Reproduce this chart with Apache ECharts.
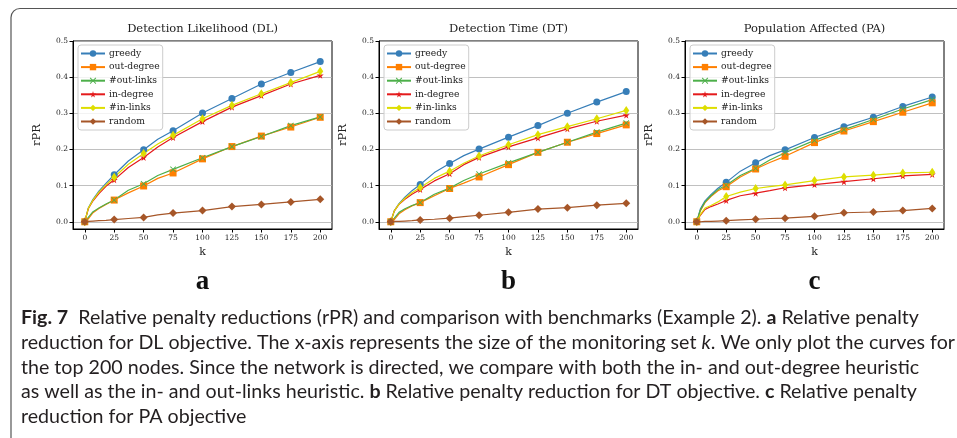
<!DOCTYPE html>
<html>
<head>
<meta charset="utf-8">
<script src="https://cdn.jsdelivr.net/npm/echarts@6/dist/echarts.min.js"></script>
<style>
  html, body { margin: 0; padding: 0; background: #fff; }
  #chart { width: 957px; height: 438px; }
</style>
</head>
<body>
<div id="chart"></div>
<script>
// k values the curves were read at (markers only every 25)
const kSteps = [0, 3, 7, 12, 18, 25, 37, 50, 62, 75, 100, 125, 150, 175, 200];
const xTicks = [0, 25, 50, 75, 100, 125, 150, 175, 200];
const yTicks = [0, 0.1, 0.2, 0.3, 0.4, 0.5];
const seriesNames = ['greedy', 'out-degree', '#out-links', 'in-degree', '#in-links', 'random'];
const panelTitles = ['Detection Likelihood (DL)', 'Detection Time (DT)', 'Population Affected (PA)'];
const panelLetters = ['a', 'b', 'c'];

// (a) DL
const dlGreedy   = [0, .038, .062, .085, .106, .130, .168, .199, .228, .252, .301, .341, .381, .413, .443];
const dlOutDeg   = [0, .008, .025, .037, .048, .060, .080, .099, .120, .135, .174, .208, .237, .262, .289];
const dlOutLinks = [0, .012, .028, .038, .049, .060, .087, .105, .128, .145, .177, .208, .236, .266, .290];
const dlInDeg    = [0, .036, .058, .078, .098, .116, .150, .178, .207, .233, .277, .317, .349, .381, .405];
const dlInLinks  = [0, .037, .060, .082, .102, .123, .159, .189, .215, .239, .285, .322, .354, .385, .416];
const dlRandom   = [0, .001, .002, .003, .004, .006, .009, .012, .019, .024, .031, .042, .048, .055, .062];

// (b) DT
const dtGreedy   = [0, .030, .050, .068, .086, .103, .136, .161, .183, .201, .234, .266, .300, .331, .360];
const dtOutDeg   = [0, .006, .022, .033, .044, .053, .072, .092, .107, .124, .158, .192, .220, .244, .268];
const dtOutLinks = [0, .010, .026, .036, .045, .053, .076, .093, .114, .132, .163, .192, .220, .248, .273];
const dtInDeg    = [0, .030, .048, .062, .076, .089, .113, .133, .158, .178, .207, .232, .257, .278, .295];
const dtInLinks  = [0, .030, .049, .065, .080, .095, .120, .140, .162, .182, .213, .241, .263, .285, .308];
const dtRandom   = [0, .001, .001, .002, .003, .005, .007, .010, .014, .018, .026, .035, .039, .046, .051];

// (c) PA
const paGreedy   = [0, .035, .058, .075, .093, .109, .140, .163, .183, .199, .233, .263, .289, .319, .345];
const paOutDeg   = [0, .030, .053, .070, .086, .097, .124, .146, .164, .181, .219, .251, .277, .303, .329];
const paOutLinks = [0, .032, .055, .072, .089, .101, .128, .148, .171, .191, .225, .255, .283, .312, .338];
const paInDeg    = [0, .018, .034, .042, .049, .059, .072, .079, .086, .094, .103, .111, .119, .127, .131];
const paInLinks  = [0, .020, .038, .045, .055, .070, .082, .092, .097, .102, .114, .124, .129, .135, .137];
const paRandom   = [0, .000, .001, .001, .002, .003, .005, .007, .009, .010, .015, .025, .027, .031, .037];

const panels = [
  [dlGreedy, dlOutDeg, dlOutLinks, dlInDeg, dlInLinks, dlRandom],
  [dtGreedy, dtOutDeg, dtOutLinks, dtInDeg, dtInLinks, dtRandom],
  [paGreedy, paOutDeg, paOutLinks, paInDeg, paInLinks, paRandom]
];

const captionLines = [
  '{b|Fig. 7}  Relative penalty reductions (rPR) and comparison with benchmarks (Example 2). {b|a} Relative penalty',
  'reduction for DL objective. The x-axis represents the size of the monitoring set {i|k}. We only plot the curves for',
  'the top 200 nodes. Since the network is directed, we compare with both the in- and out-degree heuristic',
  'as well as the in- and out-links heuristic. {b|b} Relative penalty reduction for DT objective. {b|c} Relative penalty',
  'reduction for PA objective'
];

const colors = ['#377eb8', '#ff7f00', '#4daf4a', '#e41a1c', '#dede00', '#a65628'];
const symbols = [
  'circle',
  'rect',
  'path://M0,1L1,0L5,4L9,0L10,1L6,5L10,9L9,10L5,6L1,10L0,9L4,5Z',
  'path://M50,0L61,35L98,35L68,57L79,91L50,70L21,91L32,57L2,35L39,35Z',
  'path://M5,0L9,10L5,20L1,10Z',
  'diamond'
];
const symbolSizes = [7, 7, 6, 7, [6, 9], 8];

const serif = '"DejaVu Serif", serif';
const capFont = 'Lato, "Open Sans", sans-serif';
const gridLefts = [73, 379, 685];
const gridW = 259, gridTop = 41, gridH = 188;

// fit caption size to the width of the third line in the reference
function fitFontSize (text, family, targetWidth) {
  const ctx = document.createElement('canvas').getContext('2d');
  ctx.font = '20px ' + family;
  return 20 * targetWidth / ctx.measureText(text).width;
}
const capSize = fitFontSize(captionLines[2], capFont, 899);

const chart = echarts.init(document.getElementById('chart'));

const grids = [], xAxes = [], yAxes = [], series = [], legends = [], titles = [], graphics = [];

gridLefts.forEach((left, i) => {
  grids.push({
    left: left, top: gridTop, width: gridW, height: gridH,
    show: true, borderColor: '#000', borderWidth: 1
  });
  xAxes.push({
    gridIndex: i, type: 'value', min: -10, max: 210,
    name: 'k', nameLocation: 'middle', nameGap: 18,
    nameTextStyle: { fontFamily: serif, fontSize: 11, color: '#222' },
    axisLine: { onZero: false, lineStyle: { color: '#000', width: 1 } },
    axisTick: { customValues: xTicks, length: 3.5, lineStyle: { color: '#000' } },
    axisLabel: { customValues: xTicks, fontFamily: serif, fontSize: 7.5, color: '#222', margin: 5 },
    splitLine: { show: false }
  });
  yAxes.push({
    gridIndex: i, type: 'value', min: -0.02, max: 0.5,
    name: 'rPR', nameLocation: 'middle', nameGap: 30,
    nameTextStyle: { fontFamily: serif, fontSize: 11.5, color: '#222' },
    axisLine: { onZero: false, lineStyle: { color: '#000', width: 1 } },
    axisTick: { customValues: yTicks, length: 3.5, lineStyle: { color: '#000' } },
    axisLabel: { customValues: yTicks, fontFamily: serif, fontSize: 7.5, color: '#222', margin: 5,
      formatter: v => v.toFixed(1) },
    splitLine: { show: true, lineStyle: { color: '#b0b0b0', width: 0.8 } }
  });
  titles.push({
    text: panelTitles[i], left: left + gridW / 2, top: 23, textAlign: 'center', padding: 0,
    textStyle: { fontFamily: serif, fontSize: 11.5, fontWeight: 'normal', color: '#222' }
  });
  legends.push({
    data: seriesNames, orient: 'vertical', left: left + 5, top: 45,
    itemWidth: 24, itemHeight: 8, itemGap: 2.6,
    padding: [3, 3, 3, 2],
    borderColor: '#ccc', borderWidth: 1, borderRadius: 3,
    backgroundColor: 'rgba(255,255,255,0.8)',
    lineStyle: { width: 2 },
    textStyle: { fontFamily: serif, fontSize: 9.2, color: '#222', lineHeight: 11, padding: [0, 0, 0, -1] },
    selectedMode: false
  });
  graphics.push({
    type: 'text', x: left + gridW / 2, y: 282,
    style: { text: panelLetters[i], font: 'bold 27px "Liberation Serif", serif', fill: '#111',
      align: 'center', verticalAlign: 'middle' }
  });

  panels[i].forEach((vals, j) => {
    series.push({
      name: seriesNames[j], type: 'line', xAxisIndex: i, yAxisIndex: i,
      // markers only on the multiples of 25, like the reference
      data: kSteps.map((k, n) => (k % 25 === 0 ? [k, vals[n]] : { value: [k, vals[n]], symbol: 'none' })),
      symbol: symbols[j], symbolSize: symbolSizes[j], showAllSymbol: true,
      color: colors[j],
      lineStyle: { width: 1.2 },
      animation: false
    });
  });
});

// figure frame (only top and left sides fall inside the window)
graphics.push({
  type: 'rect', shape: { x: 11, y: 8.5, width: 980, height: 460, r: 9 },
  style: { fill: 'none', stroke: '#555', lineWidth: 1.2 }
});

captionLines.forEach((line, n) => {
  graphics.push({
    type: 'text', x: 21, y: 318 + n * 24.6,
    style: {
      text: line, fontFamily: capFont, fontSize: capSize, fill: '#231f20', verticalAlign: 'middle',
      rich: {
        b: { fontFamily: capFont, fontSize: capSize, fontWeight: 'bold', fill: '#231f20' },
        i: { fontFamily: capFont, fontSize: capSize, fontStyle: 'italic', fill: '#231f20' }
      }
    }
  });
});

chart.setOption({
  animation: false,
  backgroundColor: '#fff',
  title: titles,
  legend: legends,
  grid: grids,
  xAxis: xAxes,
  yAxis: yAxes,
  series: series,
  graphic: graphics
});
</script>
</body>
</html>
